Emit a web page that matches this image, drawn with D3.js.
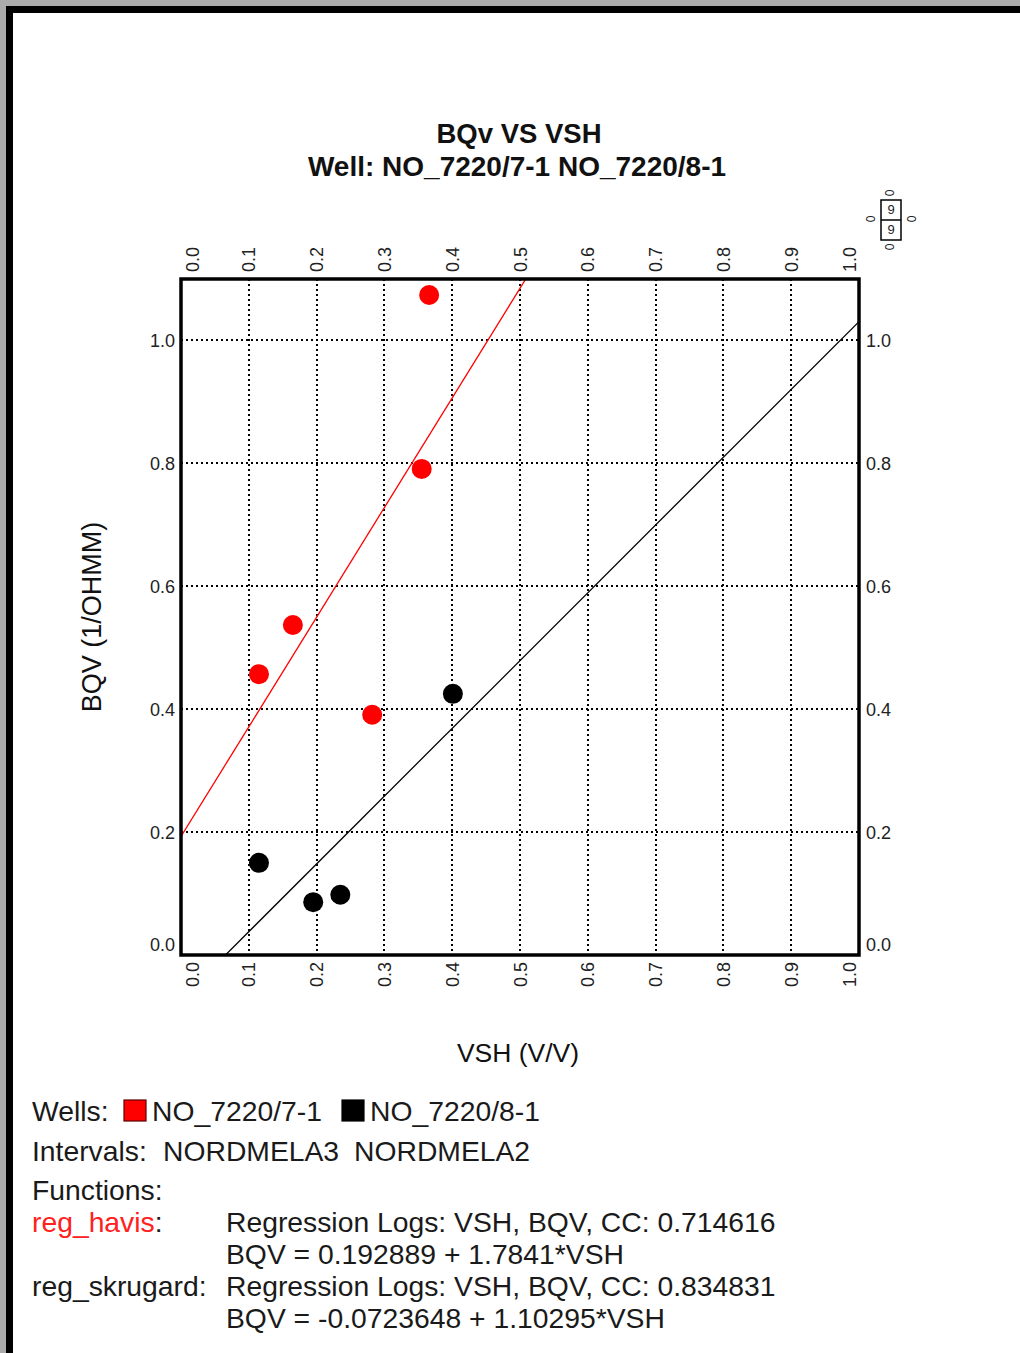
<!DOCTYPE html>
<html>
<head>
<meta charset="utf-8">
<script src="https://cdn.jsdelivr.net/npm/d3@7"></script>
<style>
  html, body { margin: 0; padding: 0; background: #fff; }
  svg { display: block; }
  text { font-family: "Liberation Sans", Arial, Helvetica, sans-serif; }
</style>
</head>
<body>
<div id="chart"></div>
<script>
// Well NO_7220/7-1 samples (VSH, BQV)
const vsh7 = [0.366, 0.355, 0.165, 0.115, 0.282];
const bqv7 = [1.074, 0.791, 0.537, 0.457, 0.391];
// Well NO_7220/8-1 samples (VSH, BQV)
const vsh8 = [0.401, 0.115, 0.195, 0.235];
const bqv8 = [0.425, 0.150, 0.086, 0.098];

// Regression functions: intercept, slope, correlation coefficient
const regNames = ["reg_havis", "reg_skrugard"];
const regIntercepts = [0.192889, -0.0723648];
const regSlopes = [1.7841, 1.10295];
const regCC = ["0.714616", "0.834831"];
const regSlopeText = ["1.7841", "1.10295"];
const regInterceptText = ["0.192889", "-0.0723648"];

const xTicks = [0.0, 0.1, 0.2, 0.3, 0.4, 0.5, 0.6, 0.7, 0.8, 0.9, 1.0];
const yTicks = [0.0, 0.2, 0.4, 0.6, 0.8, 1.0];
const wells = ["NO_7220/7-1", "NO_7220/8-1"];
const wellColors = ["#ff0000", "#000000"];
const intervals = ["NORDMELA3", "NORDMELA2"];

const W = 1020, H = 1353;
const svg = d3.select("#chart").append("svg").attr("width", W).attr("height", H);

// page frame
svg.append("rect").attr("x", 0).attr("y", 0).attr("width", W).attr("height", H).attr("fill", "#fff");
svg.append("rect").attr("x", 0).attr("y", 0).attr("width", W).attr("height", 6).attr("fill", "#ababab");
svg.append("rect").attr("x", 0).attr("y", 0).attr("width", 6).attr("height", H).attr("fill", "#ababab");
svg.append("rect").attr("x", 6).attr("y", 6).attr("width", W - 6).attr("height", 7).attr("fill", "#000");
svg.append("rect").attr("x", 6).attr("y", 6).attr("width", 7).attr("height", H - 6).attr("fill", "#000");

const plot = { left: 181, right: 859, top: 279, bottom: 955 };
const x = d3.scaleLinear().domain([0, 1]).range([plot.left, plot.right]);
const y = d3.scaleLinear().domain([0, 1.1]).range([plot.bottom, plot.top]);

// titles
svg.append("text").attr("x", 519).attr("y", 143).attr("text-anchor", "middle")
  .attr("font-size", 27.5).attr("font-weight", "bold").attr("fill", "#111").text("BQv VS VSH");
svg.append("text").attr("x", 517).attr("y", 176).attr("text-anchor", "middle")
  .attr("font-size", 28).attr("font-weight", "bold").attr("fill", "#111")
  .text("Well: " + wells.join(" "));

// dotted grid, snapped to whole pixels so the dots stay crisp
const grid = svg.append("g").attr("stroke", "#000").attr("stroke-width", 2)
  .attr("stroke-dasharray", "2,3").attr("shape-rendering", "crispEdges");
grid.selectAll("line.v").data(xTicks.filter(d => d > 0 && d < 1)).join("line")
  .attr("x1", d => Math.round(x(d))).attr("x2", d => Math.round(x(d)))
  .attr("y1", plot.top).attr("y2", plot.bottom);
grid.selectAll("line.h").data(yTicks.filter(d => d > 0)).join("line")
  .attr("x1", plot.left).attr("x2", plot.right)
  .attr("y1", d => Math.round(y(d))).attr("y2", d => Math.round(y(d)));

// clip for regression lines
svg.append("clipPath").attr("id", "plotclip").append("rect")
  .attr("x", plot.left).attr("y", plot.top)
  .attr("width", plot.right - plot.left).attr("height", plot.bottom - plot.top);

const regColors = ["#ff0000", "#000000"];
const line = d3.line().x(d => x(d[0])).y(d => y(d[1]));
regIntercepts.forEach((b, i) => {
  const pts = [[0, b], [1, b + regSlopes[i]]];
  svg.append("path").attr("d", line(pts)).attr("clip-path", "url(#plotclip)")
    .attr("fill", "none").attr("stroke", regColors[i]).attr("stroke-width", 1.3);
});

// points
const pts7 = vsh7.map((v, i) => [v, bqv7[i]]);
const pts8 = vsh8.map((v, i) => [v, bqv8[i]]);
svg.append("g").selectAll("circle").data(pts7).join("circle")
  .attr("cx", d => x(d[0])).attr("cy", d => y(d[1])).attr("r", 10).attr("fill", wellColors[0]);
svg.append("g").selectAll("circle").data(pts8).join("circle")
  .attr("cx", d => x(d[0])).attr("cy", d => y(d[1])).attr("r", 10).attr("fill", wellColors[1]);

// plot frame
svg.append("rect").attr("x", plot.left).attr("y", plot.top)
  .attr("width", plot.right - plot.left).attr("height", plot.bottom - plot.top)
  .attr("fill", "none").attr("stroke", "#000").attr("stroke-width", 3.5);

// tick labels
const fmt = d3.format(".1f");
const tickFont = 18, tickColor = "#222";
const clampX = v => Math.max(plot.left + 11, Math.min(plot.right - 10, x(v)));
const clampY = v => Math.max(plot.top + 10, Math.min(plot.bottom - 11, y(v)));

// top axis (rotated)
svg.append("g").selectAll("text").data(xTicks).join("text")
  .attr("transform", d => `translate(${clampX(d) + 6.5},272) rotate(-90)`)
  .attr("text-anchor", "start").attr("font-size", tickFont).attr("fill", tickColor).text(fmt);
// bottom axis (rotated)
svg.append("g").selectAll("text").data(xTicks).join("text")
  .attr("transform", d => `translate(${clampX(d) + 6.5},962) rotate(-90)`)
  .attr("text-anchor", "end").attr("font-size", tickFont).attr("fill", tickColor).text(fmt);
// left axis
svg.append("g").selectAll("text").data(yTicks).join("text")
  .attr("x", 175).attr("y", d => clampY(d) + 6.5)
  .attr("text-anchor", "end").attr("font-size", tickFont).attr("fill", tickColor).text(fmt);
// right axis
svg.append("g").selectAll("text").data(yTicks).join("text")
  .attr("x", 866).attr("y", d => clampY(d) + 6.5)
  .attr("text-anchor", "start").attr("font-size", tickFont).attr("fill", tickColor).text(fmt);

// axis titles
svg.append("text").attr("x", 518).attr("y", 1062).attr("text-anchor", "middle")
  .attr("font-size", 26.5).attr("fill", "#111").text("VSH (V/V)");
svg.append("text").attr("transform", "translate(101,617) rotate(-90)").attr("text-anchor", "middle")
  .attr("font-size", 27).attr("fill", "#111").text("BQV (1/OHMM)");

// orientation widget (top right)
const wg = svg.append("g").attr("font-size", 12).attr("fill", "#222");
wg.append("rect").attr("x", 881).attr("y", 200).attr("width", 20).attr("height", 40)
  .attr("fill", "none").attr("stroke", "#000").attr("stroke-width", 1.5);
wg.append("line").attr("x1", 881).attr("x2", 901).attr("y1", 220).attr("y2", 220)
  .attr("stroke", "#000").attr("stroke-width", 1.5);
[[890, 193], [890, 247], [871, 219], [912, 219]].forEach(p => {
  wg.append("text").attr("transform", `translate(${p[0] + 4},${p[1]}) rotate(-90)`)
    .attr("text-anchor", "middle").text("0");
});
[[891, 214], [891, 234]].forEach(p => {
  wg.append("text").attr("x", p[0]).attr("y", p[1]).attr("text-anchor", "middle")
    .attr("font-size", 13).text("9");
});

// legend / info block
const info = svg.append("g").attr("font-size", 28.3).attr("fill", "#1a1a1a");
info.append("text").attr("x", 32).attr("y", 1121).text("Wells:");
const wellX = [124, 342];
wells.forEach((w, i) => {
  info.append("rect").attr("x", wellX[i]).attr("y", 1100).attr("width", 22).attr("height", 21)
    .attr("fill", wellColors[i]).attr("stroke", i === 0 ? "#5a0000" : "#000").attr("stroke-width", 1.2);
  info.append("text").attr("x", wellX[i] + 28).attr("y", 1121).text(w);
});
info.append("text").attr("x", 32).attr("y", 1161).text("Intervals:");
const intX = [163, 354];
intervals.forEach((s, i) => info.append("text").attr("x", intX[i]).attr("y", 1161).text(s));
info.append("text").attr("x", 32).attr("y", 1200).text("Functions:");

const rowY = [1232, 1296];
regNames.forEach((n, i) => {
  const t = info.append("text").attr("x", 32).attr("y", rowY[i]);
  t.append("tspan").attr("fill", i === 0 ? "#ff2020" : "#1a1a1a").text(n);
  t.append("tspan").text(":");
  info.append("text").attr("x", 226).attr("y", rowY[i])
    .text("Regression Logs: VSH, BQV, CC: " + regCC[i]);
  info.append("text").attr("x", 226).attr("y", rowY[i] + 32)
    .text("BQV = " + regInterceptText[i] + " + " + regSlopeText[i] + "*VSH");
});
</script>
</body>
</html>
